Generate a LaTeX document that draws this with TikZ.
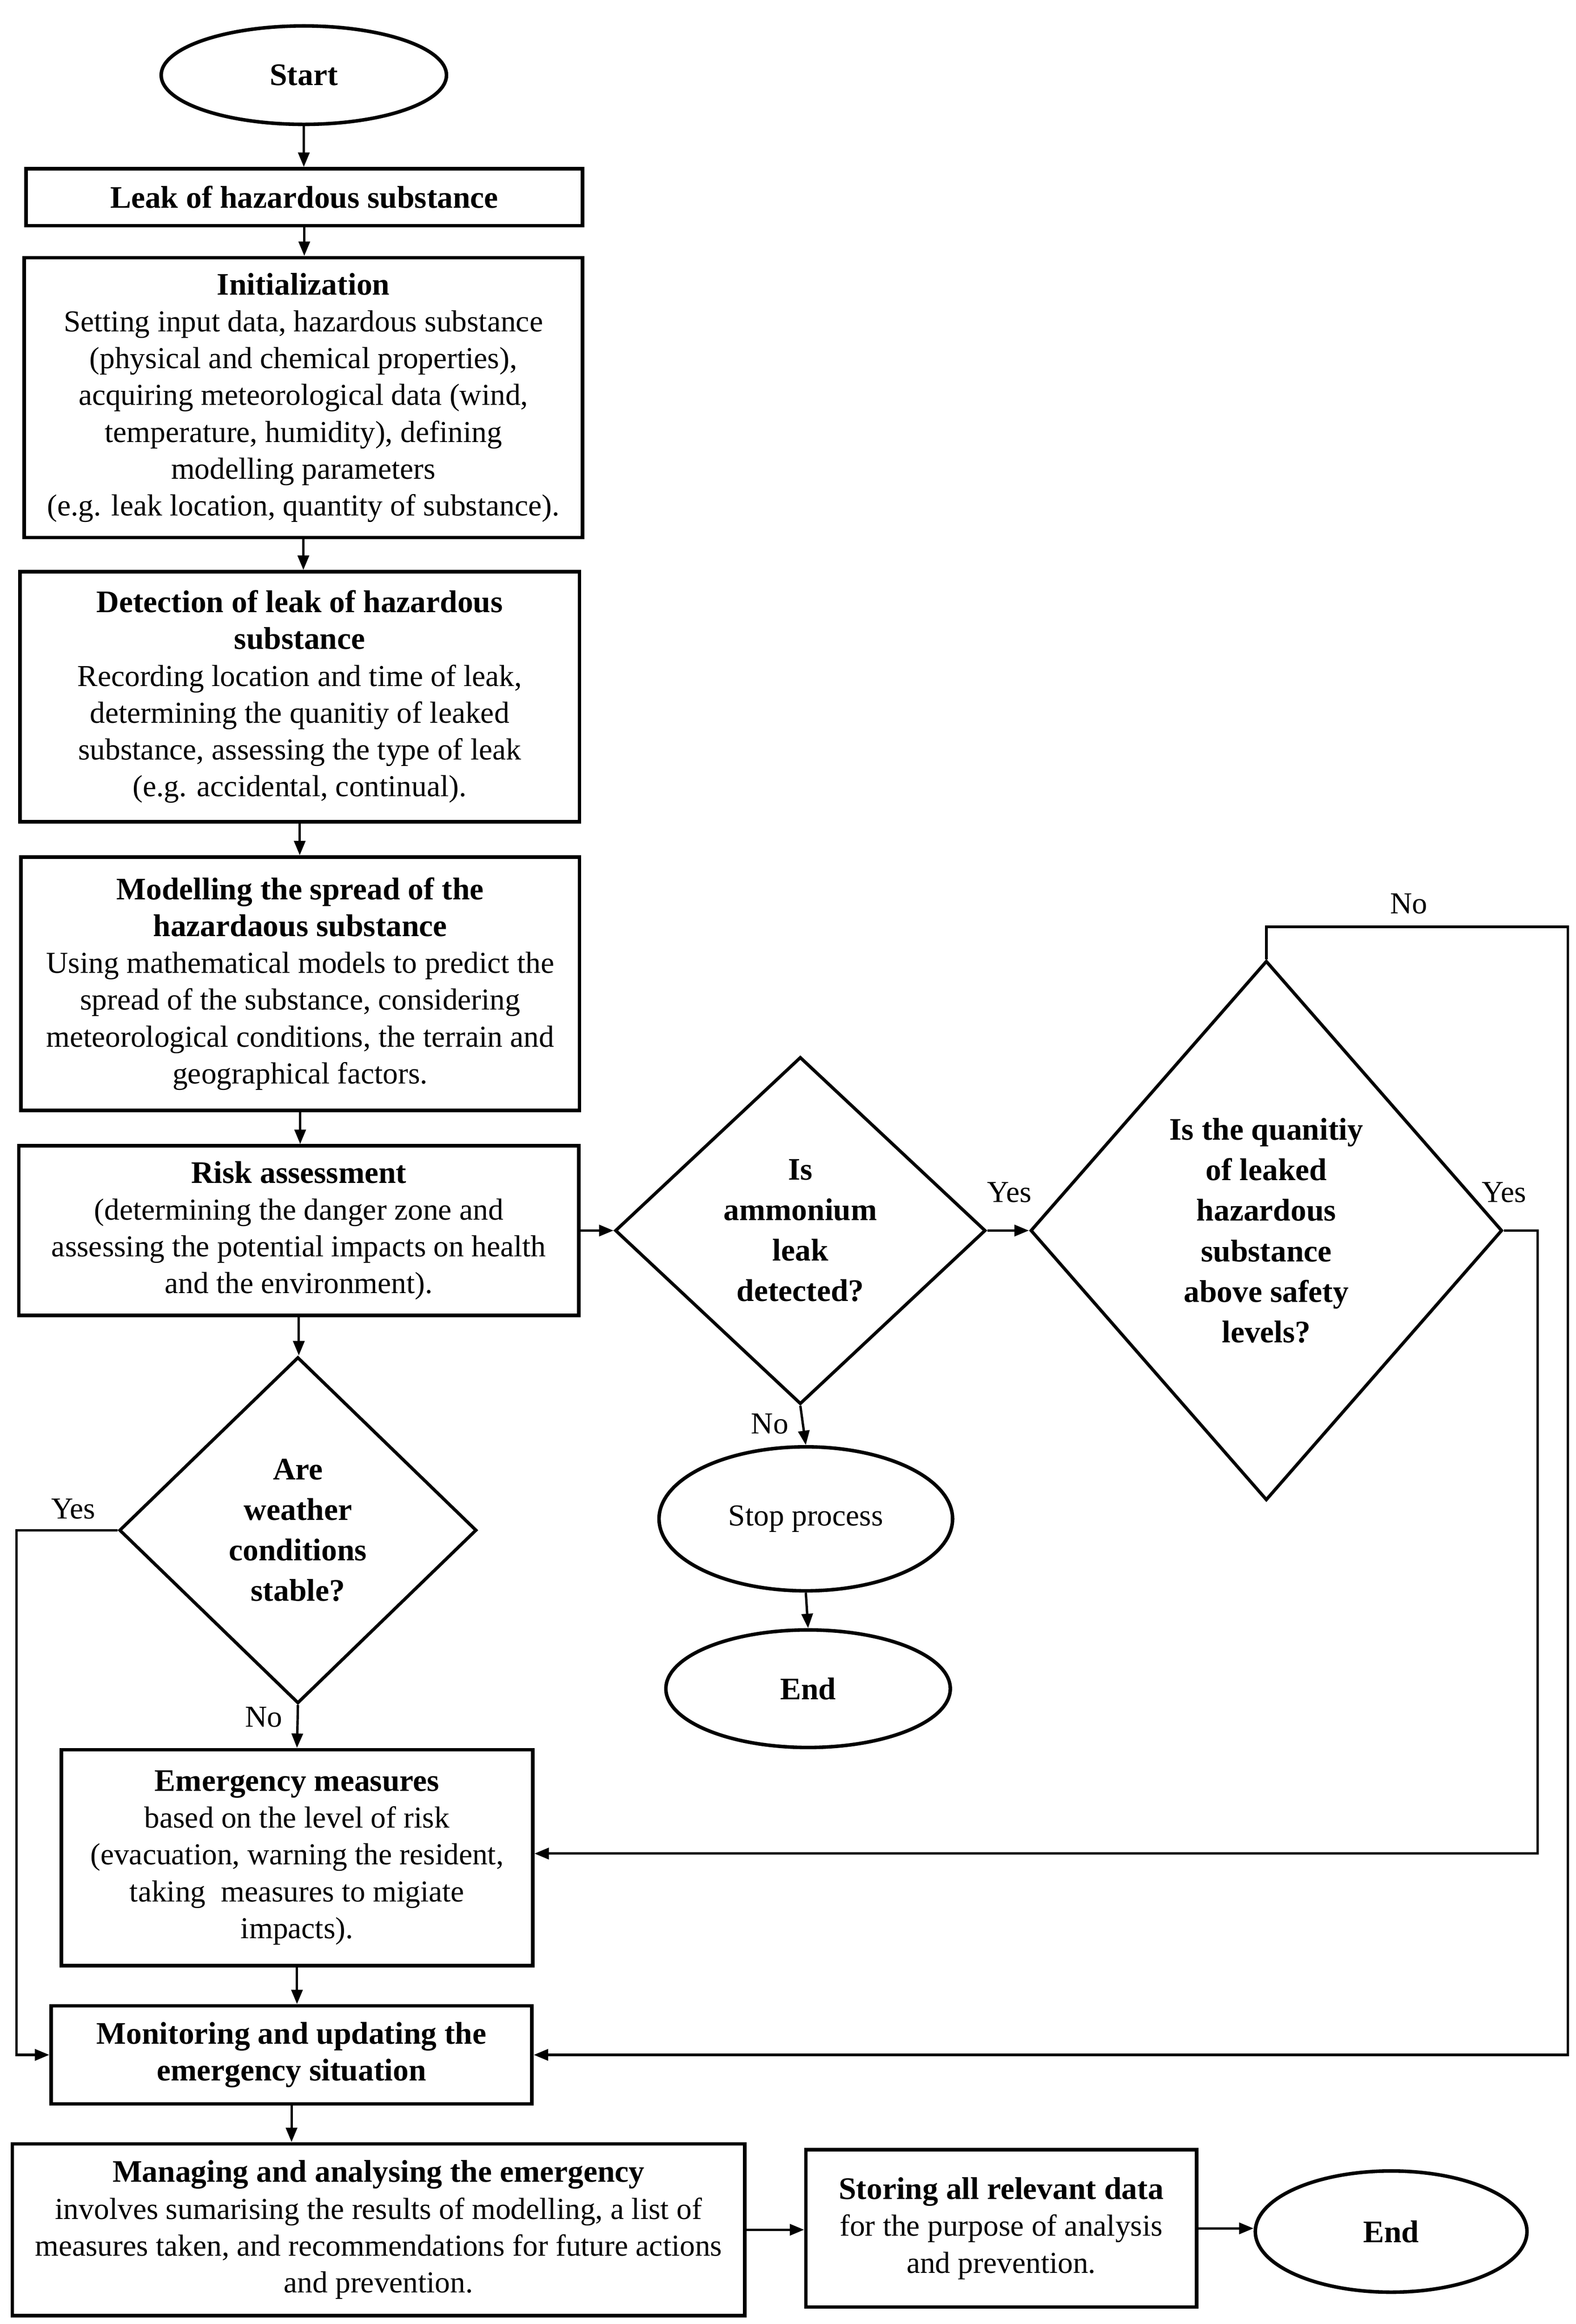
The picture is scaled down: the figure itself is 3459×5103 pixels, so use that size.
\documentclass[tikz,border=0pt]{standalone}
\usepackage{fontspec}
\setmainfont{Liberation Serif}
\usetikzlibrary{arrows.meta,shapes.geometric}
\newcommand{\hdr}[1]{{\fontsize{19.6}{23}\selectfont\bfseries #1}}
\begin{document}
\begin{tikzpicture}[x=0.01cm,y=-0.01cm,
  txt/.style={font=\fontsize{19}{23}\selectfont},
  btxt/.style={font=\fontsize{19.6}{23}\selectfont\bfseries},
  dtxt/.style={font=\fontsize{19.6}{25.3}\selectfont\bfseries,align=center},
  box/.style={draw,line width=2.2pt,rectangle,align=center,inner sep=0pt,txt},
  oval/.style={draw,line width=2.2pt,ellipse,inner sep=0pt,align=center},
  dia/.style={draw,line width=2pt,diamond,inner sep=0pt},
  conn/.style={line width=1.5pt,-{Triangle[length=9pt,width=7pt]}},
  lbl/.style={txt}
]
\useasboundingbox (0,0) rectangle (3459,5103);

% terminals
\node[oval,btxt,minimum width=6.26cm,minimum height=2.16cm] (start) at (667,165) {Start};

% process boxes
\node[box,minimum width=12.21cm,minimum height=1.25cm] (leak) at (668,433) {\hdr{Leak of hazardous substance}};
\node[box,minimum width=12.25cm,minimum height=6.14cm] (init) at (666,873) {\hdr{Initialization}\\Setting input data, hazardous substance\\(physical and chemical properties),\\acquiring meteorological data (wind,\\temperature, humidity), defining\\modelling parameters\\(e.g. leak location, quantity of substance).};
\node[box,minimum width=12.28cm,minimum height=5.49cm] (detect) at (658,1530) {\hdr{Detection of leak of hazardous}\\\hdr{substance}\\Recording location and time of leak,\\determining the quanitiy of leaked\\substance, assessing the type of leak\\(e.g. accidental, continual).};
\node[box,minimum width=12.26cm,minimum height=5.56cm] (model) at (659,2160) {\hdr{Modelling the spread of the}\\\hdr{hazardaous substance}\\Using mathematical models to predict the\\spread of the substance, considering\\meteorological conditions, the terrain and\\geographical factors.};
\node[box,minimum width=12.29cm,minimum height=3.72cm] (risk) at (656,2702) {\hdr{Risk assessment}\\(determining the danger zone and\\assessing the potential impacts on health\\and the environment).};

% decisions
\node[dia,minimum width=8.13cm,minimum height=7.62cm] (d1) at (1757,2702) {};
\node[dtxt] (d1t) at (d1.center) {Is\\ammonium\\leak\\detected?};
\node[dia,minimum width=10.35cm,minimum height=11.84cm] (d2) at (2780,2702) {};
\node[dtxt] (d2t) at (d2.center) {Is the quanitiy\\of leaked\\hazardous\\substance\\above safety\\levels?};
\node[dia,minimum width=7.84cm,minimum height=7.60cm] (d3) at (654,3360) {};
\node[dtxt] (d3t) at (d3.center) {Are\\weather\\conditions\\stable?};

\node[oval,txt,minimum width=6.44cm,minimum height=3.16cm] (stop) at (1769,3335) {Stop process};
\node[oval,btxt,minimum width=6.24cm,minimum height=2.58cm] (endm) at (1774,3708) {End};

\node[box,minimum width=10.34cm,minimum height=4.74cm] (emerg) at (652,4079) {\hdr{Emergency measures}\\based on the level of risk\\(evacuation, warning the resident,\\taking\ \ measures to migiate\\impacts).};
\node[box,minimum width=10.55cm,minimum height=2.15cm] (monitor) at (640,4512) {\hdr{Monitoring and updating the}\\\hdr{emergency situation}};
\node[box,minimum width=16.07cm,minimum height=3.77cm] (manage) at (831,4896) {\hdr{Managing and analysing the emergency}\\involves sumarising the results of modelling, a list of\\measures taken, and recommendations for future actions\\and prevention.};
\node[box,minimum width=8.57cm,minimum height=3.45cm] (store) at (2198,4893) {\hdr{Storing all relevant data}\\for the purpose of analysis\\and prevention.};
\node[oval,btxt,minimum width=5.96cm,minimum height=2.66cm] (end) at (3054,4900) {End};

% helper coordinates
\coordinate (n2a) at (2780,2035);
\coordinate (n2b) at (3442,2035);
\coordinate (n2c) at (3442,4512);
\coordinate (y2a) at (3376,2702);
\coordinate (y2b) at (3376,4070);
\coordinate (y3a) at (36,3360);
\coordinate (y3b) at (36,4512);

% main chain
\draw[conn] (start.south) -- (start.south |- leak.north);
\draw[conn] (leak.south) -- (leak.south |- init.north);
\draw[conn] (init.south) -- (init.south |- detect.north);
\draw[conn] (detect.south) -- (detect.south |- model.north);
\draw[conn] (model.south) -- (model.south |- risk.north);
\draw[conn] (risk.east) -- (d1.west);
\draw[conn] (d1.east) -- (d2.west);
\draw[conn] (d1.south) -- (stop.north);
\draw[conn] (stop.south) -- (endm.north);
\draw[conn] (risk.south) -- (risk.south |- d3.north);
\draw[conn] (d3.south) -- (emerg.north);
\draw[conn] (emerg.south) -- (emerg.south |- monitor.north);
\draw[conn] (monitor.south) -- (monitor.south |- manage.north);
\draw[conn] (manage.east) -- (manage.east -| store.west);
\draw[conn] (store.east) -- (store.east -| end.west);

% loops
\draw[conn] (d2.north) -- (n2a) -- (n2b) -- (n2c) -- (monitor.east);
\draw[conn] (d2.east) -- (y2a) -- (y2b) -- (y2b -| emerg.east);
\draw[conn] (d3.west) -- (y3a) -- (y3b) -- (monitor.west);

% labels
\node[lbl] (lyes1) at (2216,2618) {Yes};
\node[lbl] (lno1) at (1690,3126) {No};
\node[lbl] (lno2) at (3093,1984) {No};
\node[lbl] (lyes2) at (3302,2618) {Yes};
\node[lbl] (lyes3) at (161,3313) {Yes};
\node[lbl] (lno3) at (579,3770) {No};
\end{tikzpicture}
\end{document}
